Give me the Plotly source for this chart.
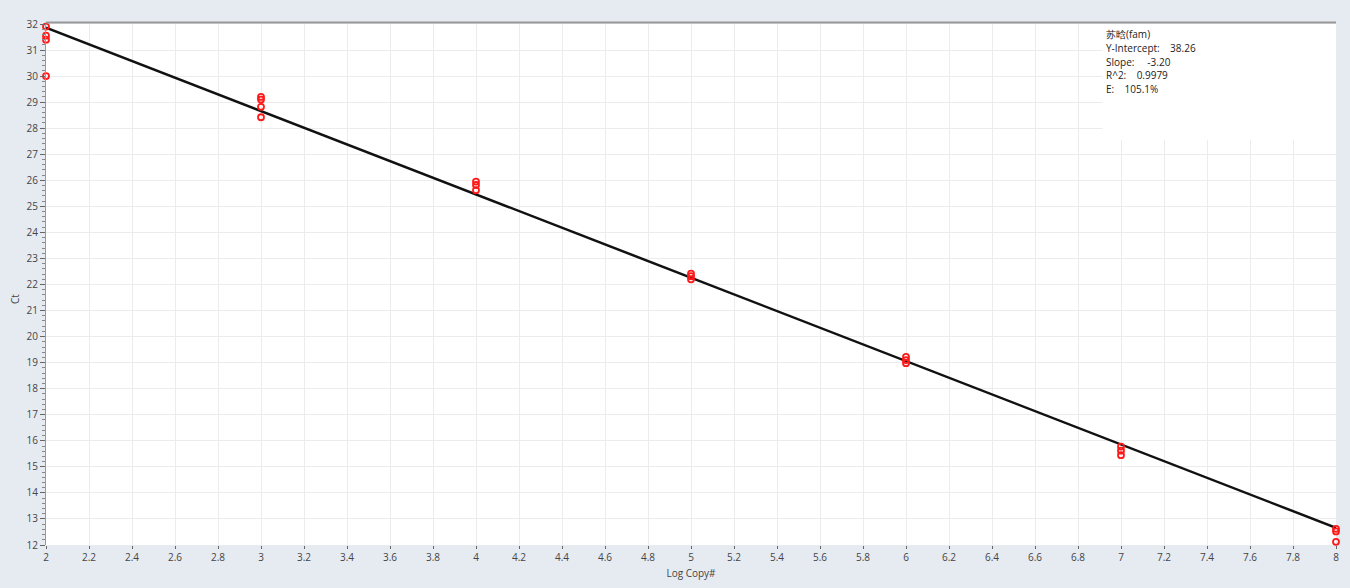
import plotly.graph_objects as go

# Standard curve data (Log Copy# vs Ct)
log_copy = [2, 2, 2, 2,
            3, 3, 3, 3,
            4, 4, 4,
            5, 5, 5,
            6, 6, 6,
            7, 7, 7,
            8, 8, 8]
ct_values = [31.9, 31.55, 31.4, 30.0,
             29.2, 29.1, 28.82, 28.42,
             25.95, 25.82, 25.62,
             22.42, 22.32, 22.2,
             19.22, 19.1, 18.98,
             15.78, 15.62, 15.45,
             12.62, 12.52, 12.12]

y_intercept = 38.26
slope = -3.20
r2 = 0.9979
efficiency = 105.1
fit_x = [2, 8]
fit_y = [y_intercept + slope * v for v in fit_x]

x_ticks = [round(2 + 0.2 * i, 1) for i in range(31)]
x_tick_text = [("%g" % v) for v in x_ticks]
y_ticks = list(range(12, 33))

fig = go.Figure()
fig.add_trace(go.Scatter(
    x=fit_x, y=fit_y, mode="lines",
    line=dict(color="#111111", width=2.5),
    hoverinfo="skip", showlegend=False))
fig.add_trace(go.Scatter(
    x=log_copy, y=ct_values, mode="markers",
    marker=dict(symbol="circle-open", size=6, color="#ff1a1a", line=dict(width=1.8)),
    showlegend=False, cliponaxis=False))

# white box behind the stats text (covers gridlines)
fig.add_shape(type="rect", xref="paper", yref="paper", x0=0.819, x1=1.0, y0=0.778, y1=1.0,
              fillcolor="white", line=dict(width=0), layer="above")

lines = ["苏晗(fam)",
         "Y-Intercept:&nbsp;&nbsp;&nbsp;&nbsp;%.2f" % y_intercept,
         "Slope:&nbsp;&nbsp;&nbsp;&nbsp;&nbsp;%.2f" % slope,
         "R^2:&nbsp;&nbsp;&nbsp;&nbsp;%.4f" % r2,
         "E:&nbsp;&nbsp;&nbsp;&nbsp;%.1f%%" % efficiency]
for i, t in enumerate(lines):
    fig.add_annotation(xref="paper", yref="paper", x=0.8205, y=1 - (10 + 13.8 * i) / 521,
                       text=t, showarrow=False, xanchor="left", yanchor="middle",
                       font=dict(size=10, color="#222222", family="Open Sans"))

# y-axis title placed as in the reference
fig.add_annotation(xref="paper", yref="paper", x=(15 - 46) / 1290, y=1 - (299 - 24) / 521,
                   text="Ct", textangle=-90, showarrow=False, xanchor="center", yanchor="middle",
                   font=dict(size=10, color="#444444", family="Open Sans"))

# top border
fig.add_shape(type="line", xref="paper", yref="paper", x0=0, x1=1, y0=1.003, y1=1.003,
              line=dict(color="#999999", width=2), layer="above")

fig.update_layout(
    width=1350, height=588,
    paper_bgcolor="#e6ebf2", plot_bgcolor="white",
    margin=dict(l=46, r=14, t=24, b=43),
    font=dict(family="Open Sans", size=10, color="#444444"),
    xaxis=dict(range=[2, 8], tickvals=x_ticks, ticktext=x_tick_text,
               showgrid=True, gridcolor="#ececec", gridwidth=1,
               ticks="outside", ticklen=3, tickcolor="#666666",
               showline=False, zeroline=False,
               title=dict(text="Log Copy#", font=dict(size=10), standoff=6)),
    yaxis=dict(range=[12, 32], tickvals=y_ticks,
               showgrid=True, gridcolor="#ececec", gridwidth=1,
               ticks="outside", ticklen=5, tickcolor="#666666",
               minor=dict(dtick=0.2, ticks="outside", ticklen=3, tickcolor="#888888", showgrid=False),
               showline=True, linecolor="#999999", linewidth=1, zeroline=False),
)

fig.write_html("out.html", config={"displayModeBar": False},
               post_script="document.body.style.margin='0';document.body.style.overflow='hidden';")
